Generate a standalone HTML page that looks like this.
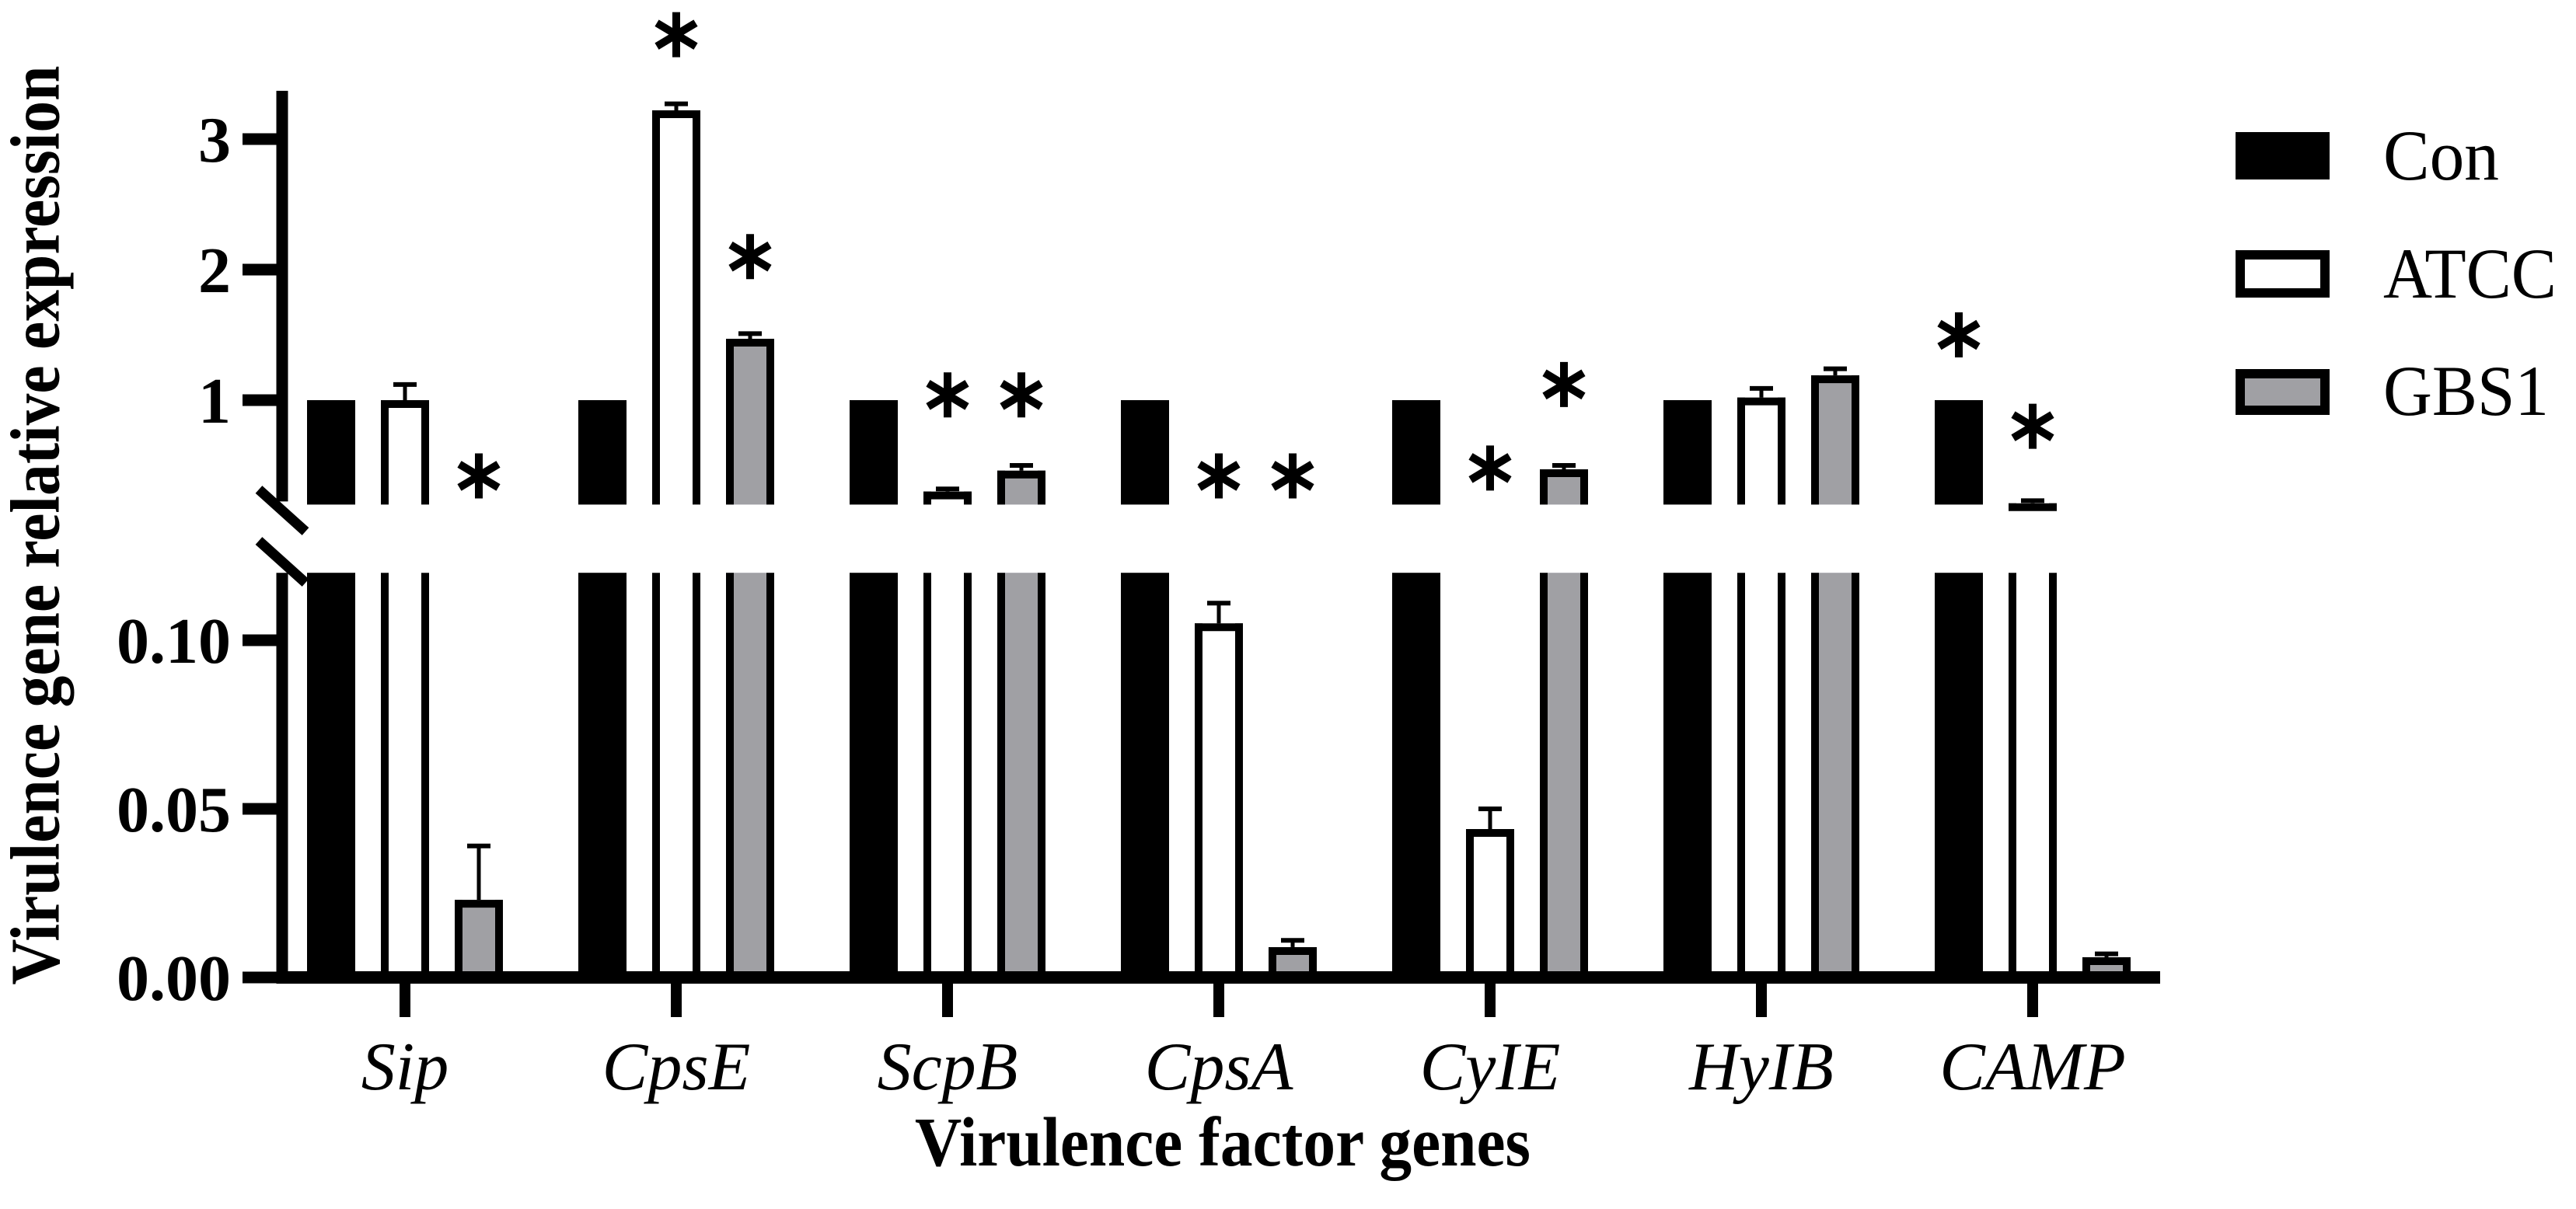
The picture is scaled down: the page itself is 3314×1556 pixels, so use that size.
<!DOCTYPE html>
<html><head><meta charset="utf-8"><style>
html,body{margin:0;padding:0;background:#fff;}
svg{display:block;}
text{font-family:"Liberation Serif",serif;}
</style></head><body>
<svg id="chart" width="3314" height="1556" viewBox="0 0 3314 1556" xmlns="http://www.w3.org/2000/svg">
<g id="axes"></g>
<g id="bars"></g>
<g id="stars"></g>
<text x="46" y="676" font-size="90" font-weight="bold" text-anchor="middle" textLength="1183" lengthAdjust="spacingAndGlyphs" transform="rotate(-90 46 676)" dominant-baseline="central">Virulence gene relative expression</text>
<text x="1573" y="1500" font-size="90" font-weight="bold" text-anchor="middle" textLength="792" lengthAdjust="spacingAndGlyphs">Virulence factor genes</text>
<g>
<rect x="2876" y="170" width="121" height="61" fill="#000"/>
<text x="3066" y="231" font-size="92" textLength="149" lengthAdjust="spacingAndGlyphs">Con</text>
<rect x="2882" y="328" width="109" height="49" fill="#fff" stroke="#000" stroke-width="12"/>
<text x="3066" y="383" font-size="92" textLength="223" lengthAdjust="spacingAndGlyphs">ATCC</text>
<rect x="2882" y="481" width="109" height="47" fill="#a0a0a4" stroke="#000" stroke-width="12"/>
<text x="3066" y="534" font-size="92" textLength="213" lengthAdjust="spacingAndGlyphs">GBS1</text>
</g>
</svg>
<script>
const categories = ["Sip","CpsE","ScpB","CpsA","CyIE","HyIB","CAMP"];
const seriesNames = ["Con","ATCC","GBS1"];
const conValues = [1,1,1,1,1,1,1];
const atccValues = [1.0,3.22,0.30,0.105,0.044,1.02,0.21];
const atccErrors = [0.12,0.05,0.02,0.006,0.006,0.07,0.02];
const gbsValues = [0.023,1.47,0.46,0.009,0.47,1.19,0.006];
const gbsErrors = [0.016,0.04,0.04,0.002,0.03,0.05,0.001];
const topTicks = [1,2,3];
const topTickLabels = ["1","2","3"];
const bottomTicks = [0,0.05,0.10];
const bottomTickLabels = ["0.00","0.05","0.10"];
// significance markers: [category index, series index, y value on upper segment]
const starCats = [0,1,1,2,2,3,3,4,4,6,6];
const starSeries = [2,1,2,1,2,1,2,1,2,0,1];
const starLevels = [0.42,3.8,2.1,1.04,1.04,0.42,0.42,0.48,1.12,1.5,0.8];

const NS="http://www.w3.org/2000/svg";
const TOP_MIN=0.2, TOP_MAX=3.37, BOT_MAX=0.12;
function yTop(v){return 515-(v-1)*168;}
function yBot(v){return 1258-v*4340;}
const TOP_BASE=yTop(TOP_MIN), BOT_TOP=yBot(BOT_MAX);
function yVal(v){return v>=TOP_MIN?yTop(v):yBot(v);}
function xCenter(ci,si){return 521+ci*349+(si-1)*95;}
const BW=62, SW=10;
function mk(tag,attrs,parent){const e=document.createElementNS(NS,tag);for(const k in attrs)e.setAttribute(k,attrs[k]);parent.appendChild(e);return e;}
const axes=document.getElementById('axes'), bars=document.getElementById('bars'), stars=document.getElementById('stars');

let e=mk('line',{x1:363,y1:yTop(TOP_MAX),x2:363,y2:TOP_BASE-4,stroke:'#000','stroke-width':15},axes);


e=mk('line',{x1:363,y1:BOT_TOP,x2:363,y2:1266,stroke:'#000','stroke-width':15},axes);


e=mk('line',{x1:333,y1:630,x2:393,y2:684,stroke:'#000','stroke-width':13},axes);


e=mk('line',{x1:333,y1:696,x2:393,y2:750,stroke:'#000','stroke-width':13},axes);


e=mk('line',{x1:356,y1:1258,x2:2779,y2:1258,stroke:'#000','stroke-width':16},axes);


topTicks.forEach((t,i)=>{
  let l=mk('line',{x1:312,y1:yTop(t),x2:363,y2:yTop(t),stroke:'#000','stroke-width':15},axes);
  
  
  let tx=mk('text',{x:297,y:yTop(t)+29,'font-size':84,'font-weight':'bold','text-anchor':'end'},axes);
  tx.textContent=topTickLabels[i];
  
  
});
bottomTicks.forEach((t,i)=>{
  let l=mk('line',{x1:312,y1:yBot(t),x2:363,y2:yBot(t),stroke:'#000','stroke-width':15},axes);
  
  
  let tx=mk('text',{x:297,y:yBot(t)+29,'font-size':84,'font-weight':'bold','text-anchor':'end'},axes);
  tx.textContent=bottomTickLabels[i];
  
  
});
categories.forEach((c,ci)=>{
  const x=xCenter(ci,1);
  let l=mk('line',{x1:x,y1:1258,x2:x,y2:1309,stroke:'#000','stroke-width':14},axes);
  
  
  let tx=mk('text',{x:x,y:1402,'font-size':88,'font-style':'italic','text-anchor':'middle'},axes);
  tx.textContent=c;
  
  
});

function drawBar(ci,si,v,err){
  const cx=xCenter(ci,si), x0=cx-BW/2, x1=cx+BW/2;
  const fill=si===0?'#000':(si===1?'#fff':'#a0a0a4');
  const g=mk('g',{},bars);
  
  
  const segs=[];
  const lt=v>BOT_MAX?BOT_TOP:yBot(v);
  segs.push([lt,1250,v<=BOT_MAX]);
  if(v>TOP_MIN) segs.push([yTop(v),TOP_BASE,true]);
  segs.forEach(([ya,yb,cap])=>{
    if(si===0){mk('rect',{x:x0,y:ya,width:BW,height:yb-ya,fill:'#000'},g);return;}
    mk('rect',{x:x0,y:ya,width:BW,height:yb-ya,fill:fill},g);
    mk('line',{x1:x0+SW/2,y1:ya,x2:x0+SW/2,y2:yb,stroke:'#000','stroke-width':SW},g);
    mk('line',{x1:x1-SW/2,y1:ya,x2:x1-SW/2,y2:yb,stroke:'#000','stroke-width':SW},g);
    if(cap) mk('line',{x1:x0,y1:ya+SW/2,x2:x1,y2:ya+SW/2,stroke:'#000','stroke-width':SW},g);
  });
  if(err){
    const yt=yVal(v+err), yb=yVal(v);
    mk('line',{x1:cx,y1:yt,x2:cx,y2:yb,stroke:'#000','stroke-width':5},g);
    mk('line',{x1:cx-15,y1:yt,x2:cx+15,y2:yt,stroke:'#000','stroke-width':6},g);
  }
}
categories.forEach((c,ci)=>{
  drawBar(ci,0,conValues[ci],0);
  drawBar(ci,1,atccValues[ci],atccErrors[ci]);
  drawBar(ci,2,gbsValues[ci],gbsErrors[ci]);
});
starCats.forEach((ci,i)=>{
  const cx=xCenter(ci,starSeries[i]), cy=yTop(starLevels[i]);
  const g=mk('g',{stroke:'#000','stroke-width':10},stars);
  
  
  mk('line',{x1:cx,y1:cy-29,x2:cx,y2:cy+29},g);
  mk('line',{x1:cx-25,y1:cy-15,x2:cx+25,y2:cy+15},g);
  mk('line',{x1:cx-25,y1:cy+15,x2:cx+25,y2:cy-15},g);
});
</script>
</body></html>
